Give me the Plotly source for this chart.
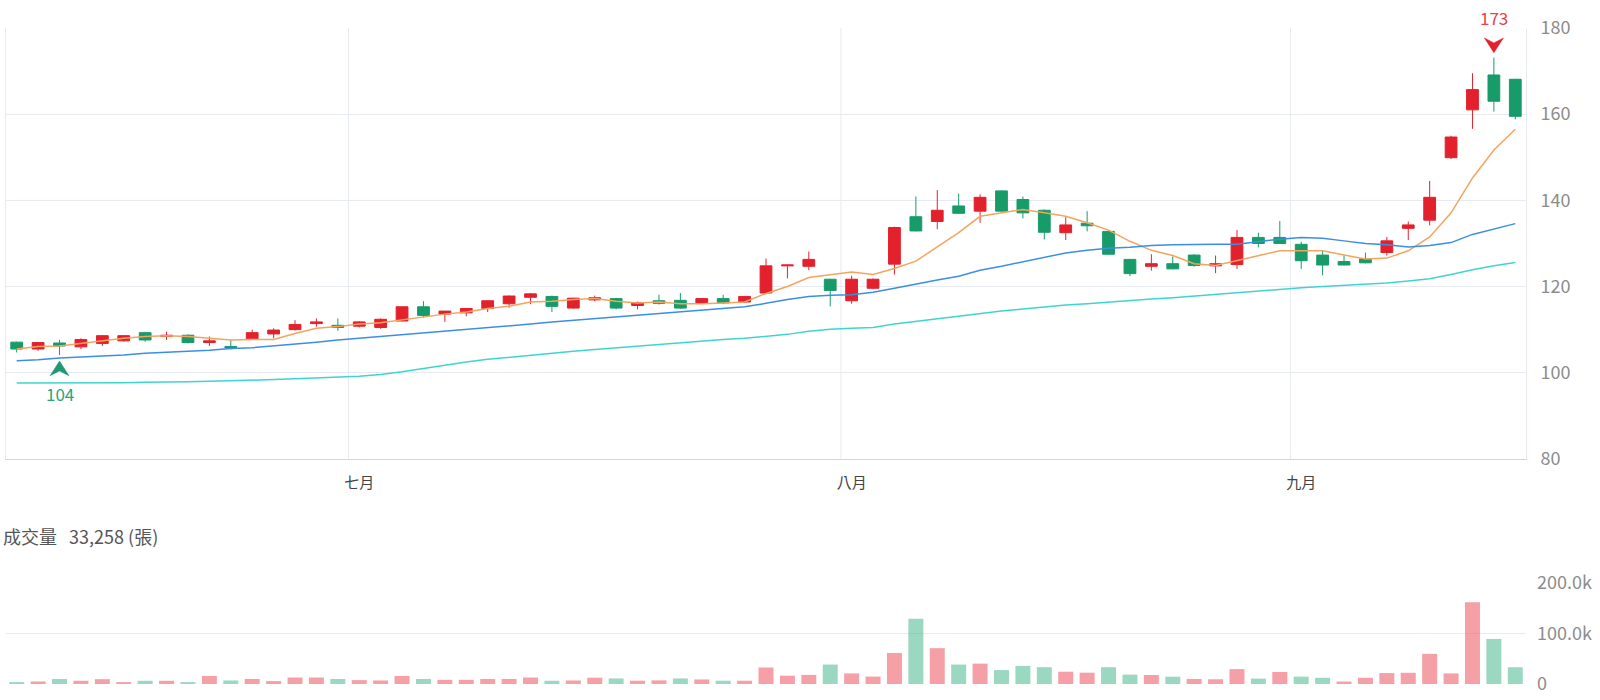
import plotly.graph_objects as go

# ---------------- data ----------------
opens = [107.1, 105.5, 106.9, 106.0, 106.8, 107.4, 109.3, 108.4, 108.7, 107.0,
         106.1, 107.9, 109.0, 110.0, 111.4, 111.0, 110.8, 110.5, 112.0, 115.3,
         113.6, 113.9, 114.9, 116.0, 117.5, 117.7, 115.0, 116.9, 117.2, 115.6,
         116.7, 116.8, 116.2, 117.2, 116.4, 118.5, 124.8, 124.7, 121.7, 116.7,
         119.6, 125.2, 136.2, 135.1, 138.7, 137.5, 142.2, 140.2, 137.7, 132.5,
         134.7, 132.8, 126.3, 124.7, 125.3, 127.3, 124.8, 125.1, 131.4, 131.4,
         129.8, 127.3, 125.8, 126.4, 127.9, 133.5, 135.4, 149.9, 161.0, 169.1,
         168.1]
highs = [107.2, 107.1, 107.6, 108.0, 108.7, 108.7, 109.5, 109.5, 108.9, 108.4,
         107.6, 110.0, 110.3, 112.2, 112.6, 112.6, 112.0, 112.6, 115.4, 116.6,
         114.3, 115.0, 116.8, 117.9, 118.5, 117.9, 117.4, 117.9, 117.4, 116.5,
         118.1, 118.5, 117.3, 118.1, 117.8, 126.5, 125.1, 128.1, 121.8, 122.5,
         121.9, 133.9, 140.9, 142.4, 141.6, 141.4, 142.3, 140.9, 137.9, 136.1,
         137.5, 133.0, 126.4, 127.5, 127.0, 127.5, 127.2, 133.1, 132.5, 135.2,
         130.4, 128.3, 127.2, 127.9, 131.5, 135.1, 144.5, 155.0, 169.5, 173.1,
         168.2]
lows = [104.7, 105.1, 104.1, 105.5, 106.2, 107.2, 107.2, 107.6, 106.8, 106.2,
        105.4, 107.6, 108.0, 109.8, 110.7, 109.7, 110.5, 110.2, 111.9, 112.8,
        111.8, 113.1, 114.1, 115.1, 115.9, 114.1, 114.8, 116.6, 114.7, 114.7,
        115.8, 114.8, 115.9, 115.9, 116.2, 118.3, 121.9, 123.8, 115.4, 116.0,
        119.4, 122.8, 132.8, 133.3, 136.9, 134.8, 137.4, 135.8, 130.9, 130.8,
        132.8, 127.4, 122.4, 123.7, 124.0, 124.6, 123.1, 124.1, 129.1, 129.9,
        124.1, 122.6, 124.9, 125.4, 127.2, 130.8, 134.2, 149.6, 156.6, 160.6,
        158.8]
closes = [105.5, 107.0, 106.2, 107.7, 108.6, 108.6, 107.6, 108.7, 107.0, 107.4,
          105.8, 109.3, 109.9, 111.2, 111.8, 110.5, 111.8, 112.4, 115.3, 113.3,
          114.3, 114.9, 116.7, 117.8, 118.3, 115.4, 117.3, 117.4, 115.0, 116.3,
          116.1, 115.0, 117.2, 116.2, 117.7, 124.8, 125.0, 126.3, 119.1, 121.7,
          121.7, 133.7, 132.9, 137.7, 137.0, 140.7, 137.5, 137.1, 132.6, 134.3,
          134.1, 127.5, 123.0, 125.3, 124.1, 124.9, 125.3, 131.4, 130.0, 130.0,
          126.0, 125.0, 125.0, 125.5, 130.6, 134.3, 140.7, 154.7, 165.7, 163.0,
          159.5]

ma_short = [105.5, 106.1, 106.2, 106.8, 107.4, 108.0, 108.4, 108.6, 108.4, 108.0,
            107.6, 107.7, 107.7, 109.1, 110.3, 110.7, 111.3, 111.6, 112.3, 113.0,
            113.6, 114.1, 114.9, 115.4, 116.4, 116.6, 117.0, 117.2, 116.6, 116.2,
            116.4, 116.0, 116.0, 116.2, 116.4, 118.4, 120.0, 122.1, 122.7, 123.4,
            122.8, 124.2, 125.9, 129.1, 132.5, 136.3, 137.1, 137.9, 137.1, 136.3,
            134.8, 133.1, 130.5, 128.4, 127.2, 125.3, 124.9, 126.0, 127.2, 128.3,
            128.3, 128.3, 127.3, 126.4, 126.6, 128.3, 131.5, 137.1, 145.2, 151.7,
            156.5]
ma_mid = [102.8, 103.0, 103.4, 103.6, 103.9, 104.1, 104.5, 104.8, 105.0, 105.2,
          105.6, 105.8, 106.2, 106.6, 107.1, 107.6, 108.0, 108.4, 108.9, 109.3,
          109.6, 110.0, 110.4, 110.9, 111.3, 111.8, 112.2, 112.6, 112.9, 113.3,
          113.7, 114.1, 114.5, 114.9, 115.3, 116.1, 117.0, 117.7, 118.0, 118.1,
          118.7, 119.6, 120.6, 121.5, 122.4, 123.8, 124.7, 125.7, 126.8, 127.8,
          128.4, 128.9, 129.1, 129.5, 129.7, 129.8, 129.8, 129.8, 130.4, 131.0,
          131.4, 131.2, 130.6, 130.0, 129.7, 129.2, 129.5, 130.2, 132.1, 133.3,
          134.6]
ma_long = [97.6, 97.6, 97.6, 97.7, 97.7, 97.7, 97.8, 97.8, 97.9, 98.0,
           98.1, 98.3, 98.4, 98.6, 98.8, 99.0, 99.2, 99.6, 100.2, 101.0,
           101.8, 102.5, 103.1, 103.6, 104.1, 104.5, 105.0, 105.4, 105.8, 106.2,
           106.6, 107.0, 107.4, 107.7, 108.0, 108.4, 108.9, 109.6, 110.1, 110.3,
           110.5, 111.3, 111.9, 112.5, 113.2, 113.8, 114.3, 114.8, 115.3, 115.7,
           116.0, 116.4, 116.8, 117.1, 117.4, 117.8, 118.2, 118.5, 118.9, 119.4,
           119.7, 120.0, 120.3, 120.5, 120.8, 121.3, 121.8, 122.8, 123.9, 124.8,
           125.6]

volumes = [3800, 5000, 10000, 6400, 9600, 3800, 6400, 6400, 3800, 16000,
           7000, 10000, 5800, 12800, 12800, 10000, 7700, 7000, 16000, 10000,
           8300, 8300, 10000, 10000, 12800, 6400, 7000, 12500, 11000, 6500,
           7200, 11000, 9000, 6500, 6500, 32700, 16500, 18000, 38500, 21000,
           14700, 61500, 129500, 71000, 38500, 40400, 27600, 35900, 33300, 24400,
           22400, 33300, 18600, 17800, 14500, 10000, 9400, 29500, 10700, 23800,
           14600, 12300, 4900, 12300, 21700, 22200, 59800, 21000, 162000, 89300,
           33258]
# 1 = rise (red), 0 = fall (green), as coloured in the volume panel
vol_up = [0, 1, 0, 1, 1, 1, 0, 1, 0, 1,
          0, 1, 1, 1, 1, 0, 1, 1, 1, 0,
          1, 1, 1, 1, 1, 0, 1, 1, 0, 1,
          1, 0, 1, 0, 1, 1, 1, 1, 0, 1,
          1, 1, 0, 1, 0, 1, 0, 0, 0, 1,
          1, 0, 0, 1, 0, 1, 1, 1, 0, 1,
          0, 0, 1, 1, 1, 1, 1, 1, 1, 0,
          0]

month_labels = ["七月", "八月", "九月"]
month_start_idx = [16, 39, 60]
price_ticks = [80, 100, 120, 140, 160, 180]
vol_ticks = [0, 100000, 200000]
vol_tick_text = ["0", "100.0k", "200.0k"]
vol_title = "成交量   33,258 (張)"

# ---------------- styling ----------------
RED = "#e3212d"
GREEN = "#179b69"
VRED = "rgba(236,96,106,0.6)"
VGREEN = "rgba(64,180,136,0.52)"
GRID = "#e8eaf3"
AXIS = "#d3d6e2"
LABEL = "#8c8c8c"
FONT = "Noto Sans CJK TC, Noto Sans, sans-serif"

W, H = 1600, 700
M_L, M_R, M_T, M_B = 5, 74, 28, 9
plot_h = H - M_T - M_B
plot_w = W - M_L - M_R
price_dom = [(691 - 463.5) / plot_h, 1.0]
vol_dom = [0.0, (691 - 589) / plot_h]
px_per_unit = plot_h * (price_dom[1] - price_dom[0]) / (price_ticks[-1] - price_ticks[0])

x = list(range(len(opens)))
px_per_x = plot_w / len(x)

fig = go.Figure()

fig.add_trace(go.Candlestick(
    x=x, open=opens, high=highs, low=lows, close=closes,
    increasing=dict(line=dict(color=RED, width=1), fillcolor=RED),
    decreasing=dict(line=dict(color=GREEN, width=1), fillcolor=GREEN),
    xaxis="x", yaxis="y", showlegend=False, hoverinfo="skip"))

for vals, col in [(ma_short, "#f5a45e"), (ma_mid, "#3b8ee6"), (ma_long, "#3fd5cf")]:
    fig.add_trace(go.Scatter(x=x, y=vals, mode="lines",
                             line=dict(color=col, width=1.5),
                             xaxis="x", yaxis="y", showlegend=False, hoverinfo="skip"))

fig.add_trace(go.Bar(
    x=x, y=volumes, marker=dict(color=[VRED if u else VGREEN for u in vol_up], line=dict(width=0)),
    xaxis="x2", yaxis="y2", showlegend=False, hoverinfo="skip"))

# highest / lowest markers (chevron arrows drawn relative to the extreme values)
i_hi = max(range(len(highs)), key=lambda i: highs[i])
i_lo = min(range(len(lows)), key=lambda i: lows[i])


def chevron(xc, tip_y, direction, color, gap_px=6, h_px=15, w_px=19, notch_px=5):
    hw = (w_px / 2) / px_per_x
    s = direction  # +1 -> points up (body below tip), -1 -> points down
    tip = tip_y - s * gap_px / px_per_unit
    base = tip - s * h_px / px_per_unit
    notch = tip - s * (h_px - notch_px) / px_per_unit
    path = (f"M {xc},{tip} L {xc - hw},{base} L {xc},{notch} "
            f"L {xc + hw},{base} Z")
    return dict(type="path", xref="x", yref="y", path=path,
                fillcolor=color, line=dict(color=color, width=0.5), layer="above")


shapes = [dict(type="line", xref="x", yref="paper", x0=m - 0.5, x1=m - 0.5,
               y0=price_dom[0], y1=price_dom[1], line=dict(color=GRID, width=1), layer="below")
          for m in month_start_idx]
shapes.append(chevron(i_lo, lows[i_lo], +1, "#1f9a70", gap_px=6))
shapes.append(chevron(i_hi, highs[i_hi], -1, "#e3212d", gap_px=5))

annotations = [
    dict(x=i_lo, y=lows[i_lo], xref="x", yref="y", text=f"{lows[i_lo]:.0f}",
         showarrow=False, yshift=-38, font=dict(size=17, color="#2aa57a", family=FONT)),
    dict(x=i_hi, y=highs[i_hi], xref="x", yref="y", text=f"{highs[i_hi]:.0f}",
         showarrow=False, yshift=40, font=dict(size=17, color="#e8404b", family=FONT)),
    dict(x=0, y=(691 - 541) / plot_h, xref="paper", yref="paper", xanchor="left",
         yanchor="middle", xshift=-5, text=vol_title, showarrow=False,
         font=dict(size=18, color="#555555", family=FONT)),
]

fig.update_layout(
    width=W, height=H,
    margin=dict(l=M_L, r=M_R, t=M_T, b=M_B),
    paper_bgcolor="white", plot_bgcolor="white",
    font=dict(family=FONT),
    boxgap=0.45, boxgroupgap=0, bargap=0.3,
    annotations=annotations, shapes=shapes,
    xaxis=dict(domain=[0, 1], range=[-0.5, len(x) - 0.5], anchor="y",
               rangeslider=dict(visible=False),
               tickmode="array", tickvals=month_start_idx, ticktext=month_labels,
               tickfont=dict(size=15, color="#444444"), ticks="", ticklabelstandoff=10,
               showgrid=False, zeroline=False, showline=True, linecolor=AXIS, linewidth=1),
    xaxis2=dict(domain=[0, 1], range=[-0.5, len(x) - 0.5], anchor="y2", matches="x",
                showticklabels=False, showgrid=False, zeroline=False, showline=False),
    yaxis=dict(domain=price_dom, range=[price_ticks[0], price_ticks[-1]], side="right",
               tickmode="array", tickvals=price_ticks, ticks="",
               tickfont=dict(size=18, color=LABEL), ticklabelstandoff=10,
               showgrid=True, gridcolor=GRID, gridwidth=1, zeroline=False,
               showline=True, linecolor=GRID, mirror=True),
    yaxis2=dict(domain=vol_dom, range=[0, vol_ticks[-1]], side="right", anchor="x2",
                tickmode="array", tickvals=vol_ticks, ticktext=vol_tick_text, ticks="",
                tickfont=dict(size=18, color=LABEL), ticklabelstandoff=10,
                showgrid=True, gridcolor=GRID, gridwidth=1, zeroline=False, showline=False),
)

fig.write_html("out.html")
